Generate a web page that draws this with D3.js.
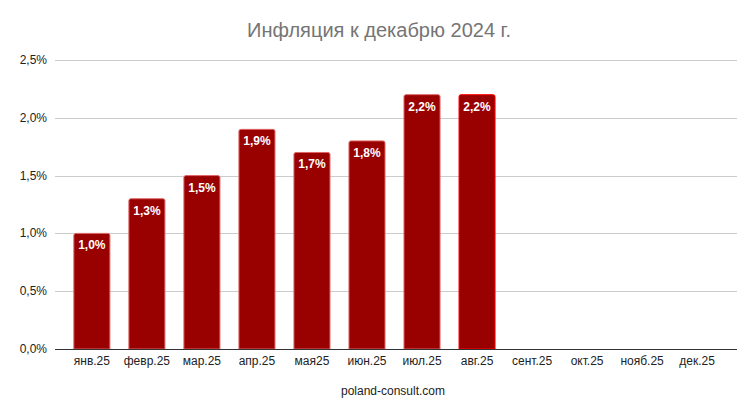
<!DOCTYPE html>
<html><head><meta charset="utf-8">
<script src="https://cdn.jsdelivr.net/npm/d3@7"></script>
<style>body{margin:0;background:#fff}svg{display:block;font-family:"Liberation Sans",Arial,sans-serif}</style>
</head><body>
<svg id="c" width="750" height="414"></svg>
<script>
const categories = ["янв.25","февр.25","мар.25","апр.25","мая25","июн.25","июл.25","авг.25","сент.25","окт.25","нояб.25","дек.25"];
const values = [1.0,1.3,1.5,1.9,1.7,1.8,2.2,2.2,null,null,null,null];
const valueLabels = ["1,0%","1,3%","1,5%","1,9%","1,7%","1,8%","2,2%","2,2%"];
const yTicks = [0,0.5,1.0,1.5,2.0,2.5];
const yTickLabels = ["0,0%","0,5%","1,0%","1,5%","2,0%","2,5%"];
const title = "Инфляция к декабрю 2024 г.";
const footer = "poland-consult.com";

const svg = d3.select("#c");
const plotL=55, plotR=737, plotT=60, plotB=349;
const x = d3.scaleBand().domain(categories).range([64.5,724.5]).paddingInner(0.345).paddingOuter(0.17);
const y = d3.scaleLinear().domain([0,2.5]).range([plotB,plotT]);

svg.append("text").attr("x",379).attr("y",37).attr("text-anchor","middle")
  .attr("font-size",20).attr("fill","#757575").text(title);

svg.append("g").selectAll("line").data(yTicks.slice(1)).join("line")
  .attr("x1",plotL).attr("x2",plotR).attr("y1",d=>Math.round(y(d))+0.5).attr("y2",d=>Math.round(y(d))+0.5)
  .attr("stroke","#cccccc").attr("stroke-width",1);

svg.append("g").selectAll("text").data(yTicks).join("text")
  .attr("x",47).attr("y",d=>y(d)+4).attr("text-anchor","end")
  .attr("font-size",12).attr("fill","#222").text((d,i)=>yTickLabels[i]);

const data = categories.map((c,i)=>({c,v:values[i],i})).filter(d=>d.v!=null);
const r=2;
function barPath(d){
  const x0=x(d.c), w=x.bandwidth(), y0=y(d.v), yb=y(0);
  return `M${x0},${yb}V${y0+r}Q${x0},${y0} ${x0+r},${y0}H${x0+w-r}Q${x0+w},${y0} ${x0+w},${y0+r}V${yb}Z`;
}
svg.append("g").selectAll("path").data(data).join("path")
  .attr("d",barPath).attr("fill","#990000")
  .attr("stroke",d=>d.i===7?"#ff0000":"#e06666").attr("stroke-width",1);

svg.append("g").selectAll("text").data(data).join("text")
  .attr("x",d=>x(d.c)+x.bandwidth()/2).attr("y",d=>y(d.v)+16).attr("text-anchor","middle")
  .attr("font-size",12).attr("font-weight","bold").attr("fill","#fff").text(d=>valueLabels[d.i]);

svg.append("line").attr("x1",plotL).attr("x2",plotR).attr("y1",plotB+0.5).attr("y2",plotB+0.5)
  .attr("stroke","#333").attr("stroke-width",1);

svg.append("g").selectAll("text").data(categories).join("text")
  .attr("x",d=>x(d)+x.bandwidth()/2).attr("y",365).attr("text-anchor","middle")
  .attr("font-size",12).attr("fill","#222").text(d=>d);

svg.append("text").attr("x",393).attr("y",395).attr("text-anchor","middle")
  .attr("font-size",12).attr("fill","#222").text(footer);
</script>
</body></html>
